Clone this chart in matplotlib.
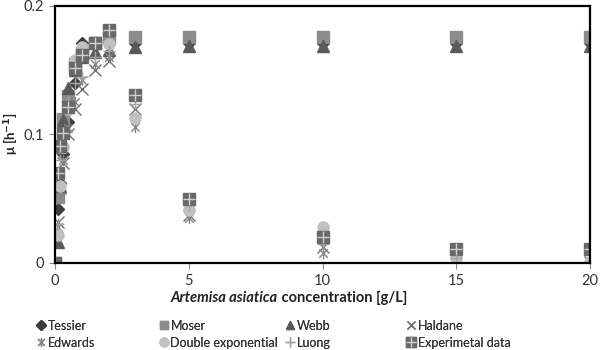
import matplotlib
matplotlib.use("Agg")
import matplotlib.pyplot as plt
from matplotlib.path import Path

plt.rcParams['font.family'] = ['Lato', 'DejaVu Sans']

conc = [0, 0.1, 0.2, 0.3, 0.5, 0.75, 1, 1.5, 2, 3, 5, 10, 15, 20]
tessier = [0, 0.042, 0.062, 0.085, 0.11, 0.14, 0.171, 0.171, 0.172, 0.171, 0.171, 0.171, 0.171, 0.171]
moser = [0, 0.051, 0.09, 0.112, 0.13, 0.155, 0.163, 0.171, 0.175, 0.176, 0.176, 0.176, 0.176, 0.176]
webb = [0, 0.016, 0.06, 0.111, 0.136, 0.15, 0.16, 0.164, 0.166, 0.168, 0.169, 0.169, 0.169, 0.169]
haldane = [0, 0.032, 0.058, 0.078, 0.1, 0.12, 0.135, 0.15, 0.157, 0.12, 0.037, 0.012, 0.003, 0.001]
edwards = [0, 0.028, 0.055, 0.08, 0.105, 0.125, 0.142, 0.155, 0.16, 0.106, 0.035, 0.008, 0.002, 0.0]
double_exp = [0, 0.022, 0.06, 0.09, 0.12, 0.158, 0.168, 0.172, 0.17, 0.113, 0.041, 0.028, 0.004, 0.001]
luong = [0, 0.03, 0.08, 0.1, 0.125, 0.14, 0.145, 0.16, 0.165, 0.124, 0.045, 0.015, 0.004, 0.001]
experimental = [0, 0.070, 0.091, 0.101, 0.121, 0.152, 0.162, 0.171, 0.181, 0.131, 0.050, 0.020, 0.011, 0.011]

labels = ["Tessier", "Moser", "Webb", "Haldane", "Edwards",
          "Double exponential", "Luong", "Experimetal data"]

ast = Path([(-1, -1), (1, 1), (-1, 1), (1, -1), (0, -1.3), (0, 1.3)],
           [Path.MOVETO, Path.LINETO, Path.MOVETO, Path.LINETO, Path.MOVETO, Path.LINETO])

fig = plt.figure(figsize=(6, 3.5), dpi=100)
ax = fig.add_axes([0.0917, 0.249, 0.892, 0.734])

h_t, = ax.plot(conc, tessier, ls='none', marker='D', ms=6, color='#3d3d3d', mec='#3d3d3d')
h_m, = ax.plot(conc, moser, ls='none', marker='s', ms=8, color='#8c8c8c', mec='#8c8c8c')
h_w, = ax.plot(conc, webb, ls='none', marker='^', ms=8, color='#5a5a5a', mec='#5a5a5a')
h_h, = ax.plot(conc, haldane, ls='none', marker='x', ms=8, mew=1.0, color='#6e6e6e')
h_e, = ax.plot(conc, edwards, ls='none', marker=ast, ms=8, mew=1.0, color='#858585')
h_d, = ax.plot(conc, double_exp, ls='none', marker='o', ms=8, color='#c0c0c0', mec='#c0c0c0')
h_l, = ax.plot(conc, luong, ls='none', marker='+', ms=9, mew=1.0, color='#a3a3a3')
h_x1, = ax.plot(conc, experimental, ls='none', marker='s', ms=9, color='#686868', mec='#686868')
h_x2, = ax.plot(conc, experimental, ls='none', marker='+', ms=9, mew=1.0, color='#d0d0d0')

ax.set_xlim(0, 20)
ax.set_ylim(0, 0.2)
ax.set_xticks([0, 5, 10, 15, 20])
ax.set_xticklabels(['0', '5', '10', '15', '20'])
ax.set_yticks([0, 0.1, 0.2])
ax.set_yticklabels(['0', '0.1', '0.2'])
for s in ax.spines.values():
    s.set_linewidth(1.6)
    s.set_color('black')
ax.tick_params(axis='both', labelsize=10.5, labelcolor='#333333', length=4, width=0.8,
               color='#888888', pad=4)

fig.text(0.016, 0.617, r"μ [h$^{\mathbf{-1}}$]", rotation=90, ha='center', va='center',
         fontsize=9.5, fontweight='bold', color='#222222')

t1 = fig.text(0.463, 0.148, "Artemisa asiatica", ha='right', va='center',
              fontsize=10.5, fontweight='bold', style='italic', color='#222222')
ax.annotate(" concentration [g/L]", xy=(1, 0), xycoords=t1, va='bottom', ha='left',
            fontsize=10.5, fontweight='bold', color='#222222')

handles = [h_t, h_m, h_w, h_h, h_e, h_d, h_l, (h_x1, h_x2)]
cols = [(0, 4), (1, 5), (2, 6), (3, 7)]
xs = [0.05, 0.255, 0.466, 0.668]
for (i, j), x0 in zip(cols, xs):
    lg = fig.legend([handles[i], handles[j]], [labels[i], labels[j]],
                    loc='upper left', bbox_to_anchor=(x0, 0.108), frameon=False,
                    fontsize=9, handlelength=0.5, handletextpad=0.3,
                    labelspacing=0.4, borderpad=0.1, markerscale=0.8,
                    labelcolor='#333333')
    fig.add_artist(lg)

fig.savefig("out.png", dpi=100)
